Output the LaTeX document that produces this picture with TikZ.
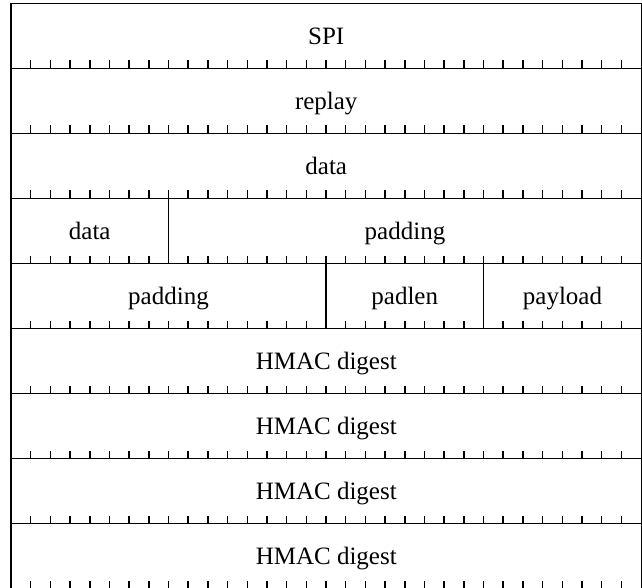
\documentclass[tikz,border=0pt]{standalone}
\usepackage{fontspec}
\setmainfont{Liberation Serif}
\begin{document}
\begin{tikzpicture}[x=1pt,y=-1pt,
  rule/.style={line width=1.5pt,black},
  tickmark/.style={line width=1.5pt,black},
  lbl/.style={font=\fontsize{25}{30}\selectfont, inner sep=0pt, anchor=base}]
\useasboundingbox (0,0) rectangle (642,588);
\def\Lx{11}
\def\Rx{641.5}
\def\Ty{3.5}
\def\Hy{65}
\def\Bw{19.6875}
% outer border
\draw[rule] (\Lx,588) -- (\Lx,\Ty) -- (\Rx,\Ty) -- (\Rx,588);
% row separators with bit ticks
\foreach \r in {1,...,9} {
  \pgfmathsetmacro\yy{\Ty+\r*\Hy}
  \ifnum\r<9
    \draw[rule] (\Lx,\yy) -- (\Rx,\yy);
  \fi
  \foreach \k in {1,...,31} {
    \draw[tickmark] ({\Lx+\k*\Bw},\yy) -- ++(0,-8);
  }
}
% vertical field dividers
\pgfmathsetmacro\xa{\Lx+8*\Bw}
\pgfmathsetmacro\xb{\Lx+16*\Bw}
\pgfmathsetmacro\xc{\Lx+24*\Bw}
\draw[rule] (\xa,{\Ty+3*\Hy}) -- (\xa,{\Ty+4*\Hy});
\draw[rule] (\xb,{\Ty+4*\Hy}) -- (\xb,{\Ty+5*\Hy});
\draw[rule] (\xc,{\Ty+4*\Hy}) -- (\xc,{\Ty+5*\Hy});
% labels
\pgfmathsetmacro\cx{(\Lx+\Rx)/2}
\def\bl{41}
\node[lbl] (spi)    at (\cx,{\Ty+0*\Hy+\bl}) {SPI};
\node[lbl] (replay) at (\cx,{\Ty+1*\Hy+\bl}) {replay};
\node[lbl] (data1)  at (\cx,{\Ty+2*\Hy+\bl}) {data};
\node[lbl] (data2)  at ({(\Lx+\xa)/2},{\Ty+3*\Hy+\bl}) {data};
\node[lbl] (pad1)   at ({(\xa+\Rx)/2},{\Ty+3*\Hy+\bl}) {padding};
\node[lbl] (pad2)   at ({(\Lx+\xb)/2},{\Ty+4*\Hy+\bl}) {padding};
\node[lbl] (padlen) at ({(\xb+\xc)/2},{\Ty+4*\Hy+\bl}) {padlen};
\node[lbl] (payload) at ({(\xc+\Rx)/2},{\Ty+4*\Hy+\bl}) {payload};
\node[lbl] (hmac1)  at (\cx,{\Ty+5*\Hy+\bl}) {HMAC digest};
\node[lbl] (hmac2)  at (\cx,{\Ty+6*\Hy+\bl}) {HMAC digest};
\node[lbl] (hmac3)  at (\cx,{\Ty+7*\Hy+\bl}) {HMAC digest};
\node[lbl] (hmac4)  at (\cx,{\Ty+8*\Hy+\bl}) {HMAC digest};
\end{tikzpicture}
\end{document}
